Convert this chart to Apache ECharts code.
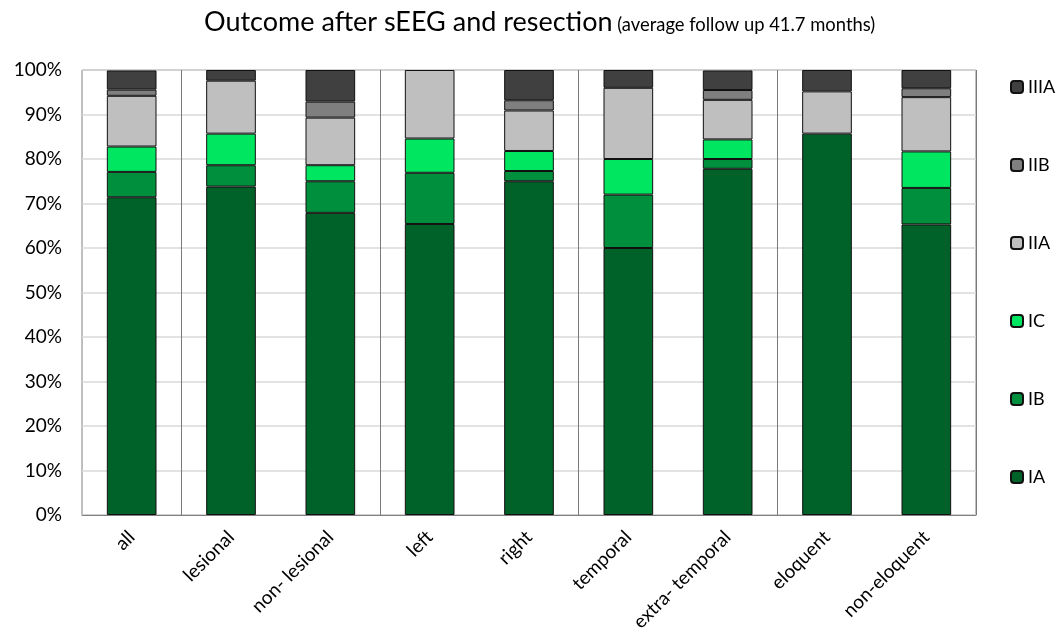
<!DOCTYPE html>
<html>
<head>
<meta charset="utf-8">
<script src="https://cdn.jsdelivr.net/npm/echarts@6/dist/echarts.min.js"></script>
<style>html,body{margin:0;padding:0;background:#fff;}#c{width:1057px;height:642px;}</style>
</head>
<body>
<div id="c"></div>
<script>
var categories = ['all', 'lesional', 'non- lesional', 'left', 'right', 'temporal', 'extra- temporal', 'eloquent', 'non-eloquent'];
var IA   = [71.4, 73.8, 67.9, 65.4, 75.0, 60.0, 77.8, 85.7, 65.3];
var IB   = [5.7, 4.8, 7.1, 11.5, 2.3, 12.0, 2.2, 0, 8.2];
var IC   = [5.7, 7.1, 3.6, 7.7, 4.5, 8.0, 4.4, 0, 8.2];
var IIA  = [11.4, 11.9, 10.7, 15.4, 9.1, 16.0, 8.9, 9.5, 12.2];
var IIB  = [1.4, 0, 3.6, 0, 2.3, 0, 2.2, 0, 2.0];
var IIIA = [4.3, 2.4, 7.1, 0, 6.8, 4.0, 4.4, 4.8, 4.1];
var yTicks = [0, 10, 20, 30, 40, 50, 60, 70, 80, 90, 100];
var separatorsBefore = [1, 3, 5, 7];

var font = 'Lato';
var chart = echarts.init(document.getElementById('c'));
function s(name, data, color) {
  return {
    name: name, type: 'bar', stack: 'total',
    data: data.map(function (v) { return v === 0 ? '-' : v; }),
    barWidth: '50%',
    itemStyle: { color: color, borderColor: '#111', borderWidth: 1 }
  };
}
chart.setOption({
  animation: false,
  textStyle: { fontFamily: font },
  title: {
    text: '{a|Outcome after sEEG and resection} {b|(average follow up 41.7 months)}',
    left: 199, top: 4,
    textStyle: {
      fontWeight: 'normal',
      rich: {
        a: { fontFamily: font, fontSize: 27, fontWeight: 'normal', color: '#000' },
        b: { fontFamily: font, fontSize: 18.4, fontWeight: 'normal', color: '#000', padding: [5, 0, 0, 0] }
      }
    }
  },
  legend: {
    orient: 'vertical', left: 1005, top: 73,
    itemWidth: 12, itemHeight: 12, itemGap: 60,
    data: ['IIIA', 'IIB', 'IIA', 'IC', 'IB', 'IA'],
    textStyle: { fontFamily: font, fontSize: 18, color: '#000' }
  },
  grid: { left: 82, right: 81, top: 70, bottom: 127, show: true, borderColor: '#808080', borderWidth: 1 },
  xAxis: {
    type: 'category', data: categories,
    axisLine: { show: true, lineStyle: { color: '#808080' } },
    axisTick: { show: false },
    axisLabel: { rotate: 45, fontFamily: font, fontSize: 19, color: '#000', margin: 19, interval: 0 },
    splitLine: {
      show: true,
      interval: function (index) { return separatorsBefore.indexOf(index) >= 0; },
      lineStyle: { color: '#7a7a7a', width: 1 }
    }
  },
  yAxis: {
    type: 'value', min: yTicks[0], max: yTicks[yTicks.length - 1], interval: 10,
    axisLine: { show: false }, axisTick: { show: false },
    axisLabel: { formatter: '{value}%', fontFamily: font, fontSize: 19, color: '#000', margin: 20 },
    splitLine: { lineStyle: { color: '#d9d9d9', width: 1.5 } }
  },
  series: [
    s('IA', IA, '#006129'),
    s('IB', IB, '#008F3D'),
    s('IC', IC, '#00E661'),
    s('IIA', IIA, '#BFBFBF'),
    s('IIB', IIB, '#7F7F7F'),
    s('IIIA', IIIA, '#404040')
  ]
});
</script>
</body>
</html>
